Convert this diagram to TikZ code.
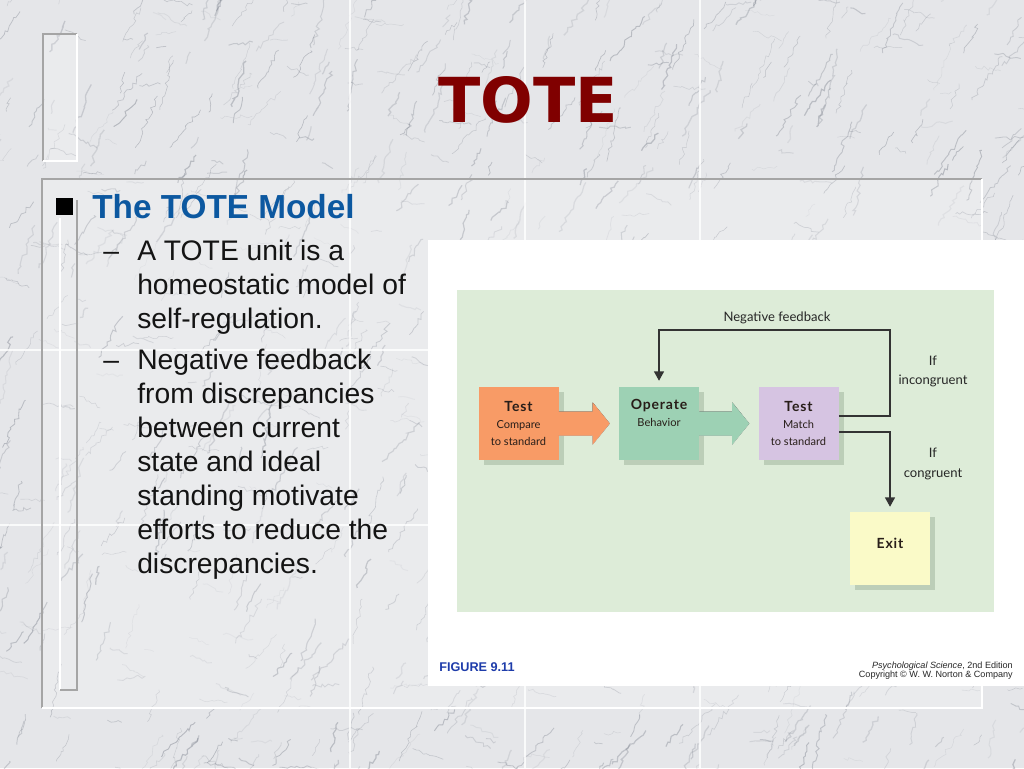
\documentclass[tikz,border=0pt]{standalone}
\usepackage{fontspec}
\setmainfont{Liberation Sans}
\newfontfamily\figfont{Lato}
\newfontfamily\titlefont{DejaVu Sans}
\usetikzlibrary{calc,arrows.meta,shadows,decorations.pathmorphing}
\definecolor{titlered}{RGB}{128,0,0}
\definecolor{headblue}{RGB}{12,88,160}
\definecolor{figblue}{RGB}{30,60,170}
\definecolor{panel}{RGB}{221,236,216}
\definecolor{shade}{RGB}{188,206,184}
\definecolor{orangebox}{RGB}{248,155,102}
\definecolor{greenbox}{RGB}{157,209,180}
\definecolor{purplebox}{RGB}{214,196,226}
\definecolor{yellowbox}{RGB}{250,250,200}
\definecolor{marble}{RGB}{229,230,233}
\definecolor{vein}{RGB}{115,121,133}
\definecolor{boxtext}{RGB}{40,30,25}
\definecolor{framegray}{RGB}{165,165,165}
\newcommand\blockarr[3]{%
  \begin{scope}[shift={(3.75pt,-3.75pt)}]
  \fill[shade] ($(#1.east)+(0,-12)$) -- ($(#2.west)+(-26,-12)$) -- ($(#2.west)+(-26,-21)$) -- ($(#2.west)+(-9,0)$) -- ($(#2.west)+(-26,21)$) -- ($(#2.west)+(-26,12)$) -- ($(#1.east)+(0,12)$) -- cycle;
  \end{scope}
  \fill[#3] ($(#1.east)+(-1,-12)$) -- ($(#2.west)+(-26,-12)$) -- ($(#2.west)+(-26,-21)$) -- ($(#2.west)+(-9,0)$) -- ($(#2.west)+(-26,21)$) -- ($(#2.west)+(-26,12)$) -- ($(#1.east)+(-1,12)$) -- cycle;
}
\begin{document}
\begin{tikzpicture}[x=0.75pt,y=-0.75pt,
  tbox/.style={minimum width=60pt, minimum height=54.75pt, inner sep=0pt, align=center,
     font=\figfont\fontsize{8.3}{12.4}\selectfont, text=boxtext,
     drop shadow={shadow xshift=3.75pt, shadow yshift=-3.75pt, fill=shade, opacity=1}},
  conn/.style={draw=black!80, line width=0.9pt, -{Triangle[width=7.5pt,length=7pt]}},
  lbl/.style={font=\figfont\fontsize{9.8}{14.6}\selectfont, text=black!85, align=center, inner sep=0pt},
  body/.style={anchor=base west, inner sep=0pt, font=\fontsize{21.2}{25}\selectfont, text=black!92},
  dashmark/.style={anchor=base west, inner sep=0pt, font=\fontsize{21.2}{25}\selectfont, text=black!92},
  seam/.style={draw=white, line width=0.8pt, opacity=0.8}
]
\useasboundingbox (0,0) rectangle (1024,768);
\clip (0,0) rectangle (1024,768);
% marble background
\fill[marble] (0,0) rectangle (1024,768);
\pgfmathsetseed{7}
\foreach \i in {1,...,720}{
  \pgfmathsetmacro\xa{rnd*1100-40}
  \pgfmathsetmacro\ya{rnd*850}
  \pgfmathsetmacro\len{12+rnd*45}
  \pgfmathsetmacro\ang{45+rnd*35}
  \pgfmathsetmacro\dx{\len*cos(\ang)}
  \pgfmathsetmacro\dy{-\len*sin(\ang)}
  \pgfmathsetmacro\op{0.10+rnd*0.32}
  \pgfmathsetmacro\lw{0.3+rnd*0.7}
  \draw[vein, opacity=\op, line width=\lw pt, decorate,
        decoration={random steps, segment length=2.5pt, amplitude=1.6pt}]
        (\xa,\ya) -- ++(\dx,\dy);
}
\foreach \i in {1,...,360}{
  \pgfmathsetmacro\xa{rnd*1100-40}
  \pgfmathsetmacro\ya{rnd*800}
  \pgfmathsetmacro\len{8+rnd*25}
  \pgfmathsetmacro\ang{150+rnd*40}
  \pgfmathsetmacro\dx{\len*cos(\ang)}
  \pgfmathsetmacro\dy{-\len*sin(\ang)}
  \pgfmathsetmacro\op{0.08+rnd*0.25}
  \pgfmathsetmacro\lw{0.3+rnd*0.5}
  \draw[vein, opacity=\op, line width=\lw pt, decorate,
        decoration={random steps, segment length=2.5pt, amplitude=1.4pt}]
        (\xa,\ya) -- ++(\dx,\dy);
}
% tile seams
\draw[seam] (350,0) -- (350,768);
\draw[seam] (525,0) -- (525,768);
\draw[seam] (700,0) -- (700,768);
\draw[seam] (0,350) -- (1024,350);
\draw[seam] (0,525) -- (1024,525);
% slide frames
\fill[white, opacity=0.2] (42,179) rectangle (982,708);
\draw[framegray, line width=1pt] (42,708) -- (42,179) -- (982,179);
\draw[white, line width=1.2pt] (982,179) -- (982,708) -- (42,708);
\fill[white, opacity=0.2] (43,34) rectangle (77,161);
\draw[framegray, line width=1pt] (43,161) -- (43,34) -- (77,34);
\draw[white, line width=1.2pt] (77,34) -- (77,161) -- (43,161);
\draw[white, line width=1.2pt] (60,218) -- (60,690);
\draw[framegray, line width=1pt] (60,690) -- (77,690) -- (77,200);
% title
\node[font=\titlefont\bfseries\fontsize{46.5}{50}\selectfont, text=titlered, inner sep=0pt] (title) at (528,100) {TOTE};
% bullets
\node[fill=black, minimum size=12.75pt, inner sep=0pt] (bul) at (64.5,206.5) {};
\node[anchor=base west, inner sep=0pt, font=\bfseries\fontsize{25}{28}\selectfont, text=headblue] (head) at (92,218) {The TOTE Model};
\node[dashmark] (d1) at (103,260) {–};
\node[body] (b1) at (137,260) {A TOTE unit is a};
\node[body] (b2) at (137,294) {homeostatic model of};
\node[body] (b3) at (137,328) {self-regulation.};
\node[dashmark] (d2) at (103,369) {–};
\node[body] (b4) at (137,369) {Negative feedback};
\node[body] (b5) at (137,403) {from discrepancies};
\node[body] (b6) at (137,437) {between current};
\node[body] (b7) at (137,471) {state and ideal};
\node[body] (b8) at (137,505) {standing motivate};
\node[body] (b9) at (137,539) {efforts to reduce the};
\node[body] (b10) at (137,573) {discrepancies.};
% figure
\fill[white] (428,240) rectangle (1024,686);
\fill[panel] (457,290) rectangle (994,612);
\node[tbox, fill=orangebox] (t1) at (518.5,423.5) {{\addfontfeatures{LetterSpace=6}\bfseries\fontsize{10.5}{12.4}\selectfont Test}\\Compare\\to standard};
\node[tbox, fill=greenbox] (op) at (659,423.5) {{\addfontfeatures{LetterSpace=6}\bfseries\fontsize{10.5}{12.4}\selectfont Operate}\\Behavior\\\strut};
\node[tbox, fill=purplebox] (t3) at (798.5,423.5) {{\addfontfeatures{LetterSpace=6}\bfseries\fontsize{10.5}{12.4}\selectfont Test}\\Match\\to standard};
\node[tbox, fill=yellowbox] (ex) at (890,548.5) {};
\node[inner sep=0pt, font=\figfont\bfseries\fontsize{10.5}{12.4}\selectfont\addfontfeatures{LetterSpace=6}, text=boxtext] (exlbl) at ([yshift=4pt]ex.center) {Exit};
\blockarr{t1}{op}{orangebox}
\blockarr{op}{t3}{greenbox}
\coordinate (fb) at (890,330);
\draw[conn, shorten >=4.5pt] ([yshift=5.6pt]t3.east) -| (fb) -| (op.north);
\draw[conn, shorten >=3.75pt] ([yshift=-6.4pt]t3.east) -| (ex.north);
\node[lbl] (nf) at (777,318) {Negative feedback};
\node[lbl] (inc) at (933,371.5) {If\\incongruent};
\node[lbl] (con) at (933,464) {If\\congruent};
\node[anchor=base west, inner sep=0pt, font=\bfseries\fontsize{9.5}{11}\selectfont, text=figblue] (fig) at (439,671) {FIGURE 9.11};
\node[anchor=base east, inner sep=0pt, font=\fontsize{6.8}{8}\selectfont, text=black!85] (cap1) at (1013,668) {\textit{Psychological Science}, 2nd Edition};
\node[anchor=base east, inner sep=0pt, font=\fontsize{6.8}{8}\selectfont, text=black!85] (cap2) at (1013,677) {Copyright © W. W. Norton \& Company};
\end{tikzpicture}
\end{document}
